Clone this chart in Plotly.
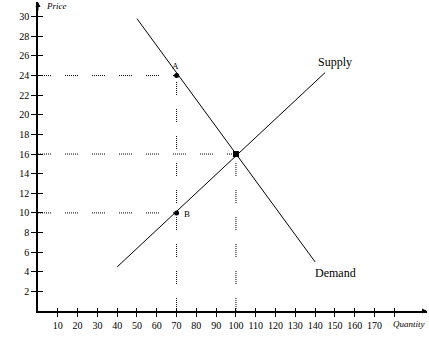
import plotly.graph_objects as go

# Data
demand_q = [50, 140]
demand_p = [29.8, 5.0]
supply_q = [40, 145]
supply_p = [4.5, 24.3]
points_q = [70, 70]
points_p = [24, 10]
point_labels = ["A", "B"]
eq_q = [100]
eq_p = [16]
x_ticks = [10, 20, 30, 40, 50, 60, 70, 80, 90, 100, 110, 120, 130, 140, 150, 160, 170, 180]
x_tick_labels = ["10", "20", "30", "40", "50", "60", "70", "80", "90", "100", "110", "120",
                 "130", "140", "150", "160", "170", ""]
y_ticks = [2, 4, 6, 8, 10, 12, 14, 16, 18, 20, 22, 24, 26, 28, 30]
# guide lines: (q_end, p) horizontal, (q, p_end) vertical
h_guides = [(70, 24), (100, 16), (70, 10)]
v_guides = [(70, 24), (100, 16)]

X_MAX = 196.5
Y_MAX = 31.5
SERIF = "Liberation Serif"
DOT = ",".join(["1px,1px"] * 6 + ["1px,14px"])

fig = go.Figure()

for qe, p in h_guides:
    fig.add_trace(go.Scatter(x=[0, qe], y=[p, p], mode="lines",
                             line=dict(color="black", width=1, dash=DOT),
                             hoverinfo="skip", showlegend=False))
for q, pe in v_guides:
    fig.add_trace(go.Scatter(x=[q, q], y=[0, pe], mode="lines",
                             line=dict(color="black", width=1, dash=DOT),
                             hoverinfo="skip", showlegend=False))

fig.add_trace(go.Scatter(x=demand_q, y=demand_p, mode="lines",
                         line=dict(color="black", width=1), showlegend=False))
fig.add_trace(go.Scatter(x=supply_q, y=supply_p, mode="lines",
                         line=dict(color="black", width=1), showlegend=False))
fig.add_trace(go.Scatter(x=points_q, y=points_p, mode="markers",
                         marker=dict(color="black", size=5), showlegend=False))
fig.add_trace(go.Scatter(x=eq_q, y=eq_p, mode="markers",
                         marker=dict(color="black", size=6, symbol="square"), showlegend=False))

# inside ticks overlay for crossing ticks
fig.add_trace(go.Scatter(x=[0], y=[0], xaxis="x2", yaxis="y2", mode="markers",
                         marker=dict(opacity=0), hoverinfo="skip", showlegend=False))

fig.update_layout(
    width=429, height=352,
    margin=dict(l=38, r=2, t=2, b=41),
    plot_bgcolor="white", paper_bgcolor="white",
    font=dict(family=SERIF, size=10, color="black"),
    xaxis=dict(range=[0, X_MAX], showgrid=False, zeroline=False,
               showline=True, linecolor="black", linewidth=1.5,
               tickvals=x_ticks, ticktext=x_tick_labels,
               ticks="outside", ticklen=4, tickwidth=1, tickcolor="black",
               tickfont=dict(family=SERIF, size=10)),
    yaxis=dict(range=[0, Y_MAX], showgrid=False, zeroline=False,
               showline=True, linecolor="black", linewidth=1.5,
               tickvals=y_ticks,
               ticks="outside", ticklen=5, tickwidth=1, tickcolor="black",
               tickfont=dict(family=SERIF, size=10)),
    xaxis2=dict(range=[0, X_MAX], overlaying="x", anchor="y2", side="bottom",
                showgrid=False, zeroline=False, showline=False,
                tickvals=x_ticks, showticklabels=False,
                ticks="inside", ticklen=3, tickwidth=1, tickcolor="black"),
    yaxis2=dict(range=[0, Y_MAX], overlaying="y", anchor="x2", side="left",
                showgrid=False, zeroline=False, showline=False,
                tickvals=y_ticks, showticklabels=False,
                ticks="inside", ticklen=5, tickwidth=1, tickcolor="black"),
    showlegend=False,
)

annotations = [
    dict(x=points_q[0], y=points_p[0], text=point_labels[0], showarrow=False,
         xanchor="center", yanchor="bottom", yshift=3, xshift=-1,
         font=dict(family=SERIF, size=9)),
    dict(x=points_q[1], y=points_p[1], text=point_labels[1], showarrow=False,
         xanchor="left", yanchor="middle", xshift=5, yshift=-1,
         font=dict(family=SERIF, size=9)),
    dict(x=supply_q[1], y=supply_p[1], text="Supply", showarrow=False,
         xanchor="center", yanchor="bottom", xshift=10, yshift=2,
         font=dict(family=SERIF, size=12)),
    dict(x=demand_q[1], y=demand_p[1], text="Demand", showarrow=False,
         xanchor="left", yanchor="top", xshift=-2, yshift=-2,
         font=dict(family=SERIF, size=12)),
    dict(x=0, y=Y_MAX, text="<i>Price</i>", showarrow=False,
         xanchor="left", yanchor="middle", xshift=6, yshift=-4,
         font=dict(family=SERIF, size=9)),
    dict(x=X_MAX, y=0, text="<i>Quantity</i>", showarrow=False,
         xanchor="right", yanchor="top", yshift=-6,
         font=dict(family=SERIF, size=9)),
    # axis arrowheads
    dict(x=0, y=Y_MAX, ax=0, ay=Y_MAX - 1, axref="x", ayref="y",
         showarrow=True, arrowhead=2, arrowsize=1, arrowwidth=1, arrowcolor="black", text=""),
    dict(x=X_MAX, y=0, ax=X_MAX - 3, ay=0, axref="x", ayref="y",
         showarrow=True, arrowhead=2, arrowsize=1, arrowwidth=1, arrowcolor="black", text=""),
]
fig.update_layout(annotations=annotations)

fig.write_html("out.html")
